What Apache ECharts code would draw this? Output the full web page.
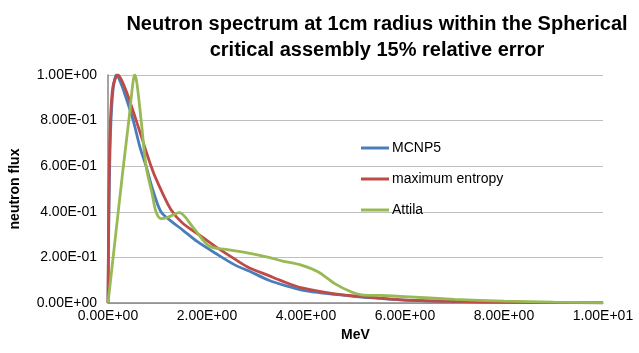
<!DOCTYPE html>
<html>
<head>
<meta charset="utf-8">
<script src="https://cdn.jsdelivr.net/npm/echarts@6/dist/echarts.min.js"></script>
<style>
  html, body { margin: 0; padding: 0; background: #fff; }
  #chart { width: 639px; height: 353px; }
</style>
</head>
<body>
<div id="chart"></div>
<script>
// energies (MeV) and normalised flux
const mcnpX = [0, 0.02, 0.05, 0.1, 0.17, 0.25, 0.35, 0.51, 0.65, 0.77, 0.9, 1.07, 1.3, 1.51, 1.8, 2.18, 2.58, 2.85, 3.25, 3.6, 3.92, 4.3, 4.58, 5.0, 5.5, 6.0, 7.0, 8.0, 9.0, 10.0];
const mcnpY = [0, 0.42, 0.74, 0.93, 1.0, 0.97, 0.91, 0.8, 0.68, 0.6, 0.5, 0.4, 0.355, 0.32, 0.27, 0.217, 0.165, 0.14, 0.1, 0.075, 0.057, 0.045, 0.038, 0.028, 0.02, 0.013, 0.007, 0.004, 0.002, 0.001];

const maxEntX = [0, 0.02, 0.05, 0.1, 0.2, 0.35, 0.57, 0.87, 1.0, 1.27, 1.51, 1.9, 2.18, 2.58, 2.85, 3.25, 3.51, 3.92, 4.58, 5.25, 5.92, 7.0, 8.0, 9.0, 10.0];
const maxEntY = [0, 0.5, 0.8, 0.95, 1.0, 0.94, 0.8, 0.6, 0.53, 0.41, 0.35, 0.29, 0.246, 0.19, 0.155, 0.12, 0.097, 0.066, 0.04, 0.026, 0.014, 0.007, 0.004, 0.002, 0.001];

const attilaX = [0, 0.15, 0.3, 0.42, 0.5, 0.535, 0.58, 0.67, 0.77, 0.9, 0.97, 1.07, 1.2, 1.44, 1.71, 2.04, 2.38, 2.71, 3.25, 3.51, 3.92, 4.25, 4.58, 4.92, 5.12, 5.5, 6.0, 7.0, 8.0, 9.0, 10.0];
const attilaY = [0, 0.29, 0.58, 0.8, 0.96, 1.0, 0.97, 0.8, 0.6, 0.47, 0.4, 0.37, 0.375, 0.396, 0.334, 0.25, 0.235, 0.224, 0.2, 0.185, 0.165, 0.136, 0.085, 0.048, 0.036, 0.033, 0.028, 0.016, 0.008, 0.004, 0.002];

const seriesNames = ["MCNP5", "maximum entropy", "Attila"];
const seriesColors = ["#4a7ebb", "#be4b48", "#98b954"];

function sci(v) {
  // Excel style 0.00E+00
  const s = Number(v).toExponential(2).toUpperCase();
  const parts = s.split("E");
  let exp = parseInt(parts[1], 10);
  const sign = exp < 0 ? "-" : "+";
  exp = Math.abs(exp);
  return parts[0] + "E" + sign + (exp < 10 ? "0" + exp : exp);
}

function pairs(xs, ys) {
  return xs.map((x, i) => [x, ys[i]]);
}

function lineSeries(i, xs, ys) {
  return {
    name: seriesNames[i],
    type: "line",
    symbol: "none",
    smooth: 0.3,
    color: seriesColors[i],
    lineStyle: { width: 2.8 },
    z: 2 + i,
    data: pairs(xs, ys)
  };
}

const font = "Liberation Sans";
const myChart = echarts.init(document.getElementById("chart"));
myChart.setOption({
  animation: false,
  title: {
    text: "Neutron spectrum at 1cm radius within the Spherical\ncritical assembly 15% relative error",
    left: 372,
    textAlign: "center",
    top: 6,
    textStyle: {
      fontFamily: font,
      fontWeight: "bold",
      fontSize: 20,
      lineHeight: 26,
      color: "#000"
    }
  },
  grid: {
    left: 105,
    right: 36,
    top: 75,
    bottom: 50,
    containLabel: false
  },
  legend: {
    orient: "vertical",
    left: 356,
    top: 136,
    icon: "rect",
    itemWidth: 28,
    itemHeight: 3,
    itemGap: 17,
    textStyle: { fontFamily: font, fontSize: 14, color: "#000", padding: [0, 0, 0, -2] },
    data: seriesNames
  },
  xAxis: {
    type: "value",
    min: 0,
    max: 10,
    interval: 2,
    name: "MeV",
    nameLocation: "middle",
    nameGap: 22,
    nameTextStyle: { fontFamily: font, fontWeight: "bold", fontSize: 14, color: "#000" },
    axisLine: { lineStyle: { color: "#868686", width: 1.5 } },
    axisTick: { show: false },
    splitLine: { show: false },
    axisLabel: { formatter: sci, fontFamily: font, fontSize: 14, color: "#000", margin: 6 }
  },
  yAxis: {
    type: "value",
    min: 0,
    max: 1,
    interval: 0.2,
    name: "neutron flux",
    nameLocation: "middle",
    nameGap: 86,
    nameTextStyle: { fontFamily: font, fontWeight: "bold", fontSize: 14, color: "#000" },
    axisLine: { show: true, lineStyle: { color: "#868686", width: 1.5 } },
    axisTick: { show: false },
    splitLine: { lineStyle: { color: "#bfbfbf", width: 1 } },
    axisLabel: { formatter: sci, fontFamily: font, fontSize: 14, color: "#000", margin: 11 }
  },
  series: [
    lineSeries(0, mcnpX, mcnpY),
    lineSeries(1, maxEntX, maxEntY),
    lineSeries(2, attilaX, attilaY)
  ]
});
</script>
</body>
</html>
